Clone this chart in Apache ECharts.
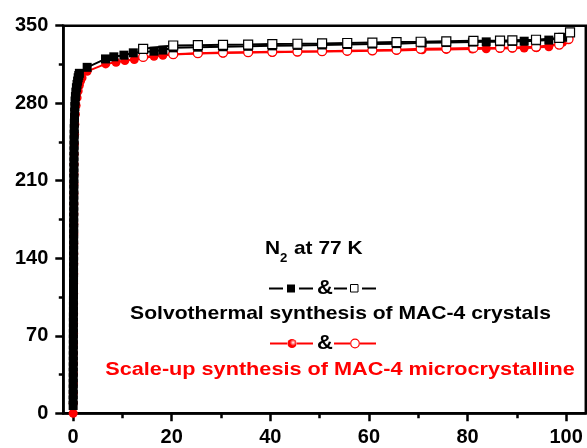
<!DOCTYPE html>
<html>
<head>
<meta charset="utf-8">
<script src="https://cdn.jsdelivr.net/npm/echarts@6/dist/echarts.min.js"></script>
<style>
  html, body { margin: 0; padding: 0; background: #ffffff; }
  #chart { width: 587px; height: 448px; }
</style>
</head>
<body>
<div id="chart"></div>
<script>
// Axis ticks
const xMajorTicks = [0, 20, 40, 60, 80, 100];
const xMinorTicks = [10, 30, 50, 70, 90];
const yTickStep = 70;

// Solvothermal MAC-4 crystals: adsorption (filled squares)
const solvoAdsP = [
  0.00, 0.00, 0.01, 0.01, 0.01, 0.02, 0.02, 0.02, 0.03, 0.03,
  0.03, 0.04, 0.04, 0.04, 0.05, 0.05, 0.05, 0.06, 0.06, 0.06,
  0.07, 0.07, 0.07, 0.08, 0.08, 0.08, 0.09, 0.09, 0.09, 0.10,
  0.10, 0.10, 0.11, 0.11, 0.11, 0.12, 0.12, 0.12, 0.13, 0.13,
  0.13, 0.14, 0.14, 0.15, 0.15, 0.16, 0.17, 0.18, 0.19, 0.20,
  0.22, 0.24, 0.27, 0.30, 0.34, 0.39, 0.46, 0.55, 0.66, 0.78, 0.90, 1.02, 1.14, 1.26,
  2.84, 6.56, 8.25, 10.3, 12.2, 16.4, 18.2, 20.3, 25.3, 30.4, 35.5, 40.4, 45.5, 50.5, 55.6, 60.7, 65.6, 70.8, 75.7,
  81.0, 83.8, 86.6, 89.1, 91.5, 94.0, 96.5, 99.3];
const solvoAdsQ = [
  7, 12, 17, 22, 27, 32, 37, 42, 47, 52,
  57, 62, 67, 72, 77, 82, 87, 92, 97, 102,
  107, 112, 117, 122, 127, 132, 137, 142, 147, 152,
  157, 162, 167, 172, 177, 182, 187, 192, 197, 202,
  207, 212, 217, 222, 227, 232, 237, 242, 247, 252,
  257, 262, 267, 272, 277, 282, 286, 290, 294, 297, 300, 303, 305, 307,
  312.4, 320.0, 321.9, 323.4, 325.5, 327.0, 328.0, 330.0, 330.6, 331.0, 331.4, 331.8, 332.2, 332.6, 333.0, 333.4, 333.8, 334.5, 334.8,
  335.2, 335.4, 335.6, 335.8, 336.0, 336.4, 337.0, 339.5];

// Solvothermal MAC-4 crystals: desorption (open squares)
const solvoDesP = [100.8, 98.6, 93.9, 89.1, 86.6, 81.2, 75.7, 70.5, 65.6, 60.7, 55.6, 50.5, 45.5, 40.4, 35.5, 30.4, 25.3, 20.3, 14.2];
const solvoDesQ = [344.0, 339.0, 337.3, 336.8, 336.6, 336.3, 335.9, 335.5, 335.2, 334.8, 334.4, 334.0, 333.7, 333.4, 333.0, 332.7, 332.4, 332.1, 329.1];

// Scale-up MAC-4 microcrystalline: adsorption (filled circles)
const scaleAdsP = [
  0.00, 0.03, 0.04, 0.05, 0.06, 0.07, 0.07, 0.08, 0.09, 0.09,
  0.10, 0.10, 0.11, 0.11, 0.12, 0.12, 0.13, 0.13, 0.14, 0.14,
  0.15, 0.15, 0.16, 0.17, 0.18, 0.20, 0.22, 0.25, 0.29, 0.35,
  0.45, 0.60, 0.80, 1.02, 1.25, 1.50, 1.80,
  2.84, 6.60, 8.70, 10.5, 12.4, 16.4, 18.2, 20.3, 25.3, 30.4, 35.5, 40.4, 45.5, 50.5, 55.6, 60.7, 65.6, 70.8, 75.7,
  81.0, 83.8, 86.6, 89.1, 91.5, 94.0, 96.5, 99.3];
const scaleAdsQ = [
  0, 9, 18, 27, 36, 45, 54, 63, 72, 81,
  90, 99, 108, 117, 126, 135, 144, 153, 162, 171,
  180, 189, 198, 207, 216, 225, 234, 243, 252, 261,
  270, 278, 285, 291, 296, 300, 303,
  308.8, 315.5, 317.0, 318.5, 319.4, 322.4, 323.3, 324.0, 324.8, 325.3, 325.7, 326.0, 326.4, 326.7, 327.0, 327.3, 327.7, 328.3, 328.6,
  329.0, 329.2, 329.4, 329.6, 329.8, 330.2, 331.0, 335.0];

// Scale-up MAC-4 microcrystalline: desorption (open circles)
const scaleDesP = [100.5, 98.6, 93.9, 89.1, 86.6, 81.2, 75.7, 70.5, 65.6, 60.7, 55.6, 50.5, 45.5, 40.4, 35.5, 30.4, 25.3, 20.3, 14.2];
const scaleDesQ = [338.0, 333.0, 331.0, 330.4, 330.2, 329.9, 329.5, 329.1, 328.3, 327.8, 327.4, 327.0, 326.7, 326.4, 326.1, 325.7, 325.2, 324.3, 321.8];

const pairs = (xs, ys) => xs.map((x, i) => [x, ys[i]]);

const FONT = '"Liberation Sans", Arial, sans-serif';
const BLACK = '#000000';
const RED = '#ff0000';

const chart = echarts.init(document.getElementById('chart'), null, { renderer: 'canvas' });

const axisLineStyle = { color: BLACK, width: 2.5 };

const option = {
  animation: false,
  backgroundColor: '#ffffff',
  grid: {
    left: 63.3, right: 1.2, top: 25.7, bottom: 34.7,
    show: true, borderColor: BLACK, borderWidth: 2.5, backgroundColor: 'transparent'
  },
  xAxis: [
    {
      type: 'value', min: -2, max: 104, position: 'bottom',
      axisLine: { show: true, onZero: false, lineStyle: axisLineStyle },
      axisTick: { show: true, inside: false, length: 8, customValues: xMajorTicks, lineStyle: axisLineStyle },
      axisLabel: { show: true, customValues: xMajorTicks, margin: 14, color: BLACK, fontSize: 20, fontWeight: 'bold', fontFamily: FONT },
      splitLine: { show: false }
    },
    {
      type: 'value', min: -2, max: 104, position: 'bottom',
      axisLine: { show: false },
      axisTick: { show: true, inside: false, length: 5, customValues: xMinorTicks, lineStyle: axisLineStyle },
      axisLabel: { show: false },
      splitLine: { show: false }
    }
  ],
  yAxis: {
    type: 'value', min: 0, max: 350, interval: yTickStep,
    axisLine: { show: true, onZero: false, lineStyle: axisLineStyle },
    axisTick: { show: true, inside: false, length: 8, lineStyle: axisLineStyle },
    minorTick: { show: true, splitNumber: 2, length: 4.5, lineStyle: { color: BLACK, width: 2.5 } },
    axisLabel: { margin: 15, color: BLACK, fontSize: 20, fontWeight: 'bold', fontFamily: FONT },
    splitLine: { show: false }, minorSplitLine: { show: false }
  },
  series: [
    {
      name: 'Scale-up adsorption', type: 'line', xAxisIndex: 0, data: pairs(scaleAdsP, scaleAdsQ),
      symbol: 'circle', symbolSize: 9, showAllSymbol: true, z: 2,
      lineStyle: { color: RED, width: 2 }, itemStyle: { color: RED, borderWidth: 0 }
    },
    {
      name: 'Scale-up desorption', type: 'line', xAxisIndex: 0, data: pairs(scaleDesP, scaleDesQ),
      symbol: 'circle', symbolSize: 9, showAllSymbol: true, z: 3,
      lineStyle: { color: RED, width: 2 }, itemStyle: { color: '#ffffff', borderColor: RED, borderWidth: 1.3 }
    },
    {
      name: 'Solvothermal adsorption', type: 'line', xAxisIndex: 0, data: pairs(solvoAdsP, solvoAdsQ),
      symbol: 'rect', symbolSize: 9, showAllSymbol: true, z: 4,
      lineStyle: { color: BLACK, width: 2 }, itemStyle: { color: BLACK, borderWidth: 0 }
    },
    {
      name: 'Solvothermal desorption', type: 'line', xAxisIndex: 0, data: pairs(solvoDesP, solvoDesQ),
      symbol: 'rect', symbolSize: 9, showAllSymbol: true, z: 5,
      lineStyle: { color: BLACK, width: 2 }, itemStyle: { color: '#ffffff', borderColor: BLACK, borderWidth: 1.2 }
    }
  ],
  graphic: [
    // Caption: N2 at 77 K
    { type: 'text', x: 265, y: 249, scaleX: 1.1, z: 100,
      style: { text: 'N', font: 'bold 19px ' + FONT, fill: BLACK, textAlign: 'left', textVerticalAlign: 'middle' } },
    { type: 'text', x: 280, y: 259, scaleX: 1.1, z: 100,
      style: { text: '2', font: 'bold 12px ' + FONT, fill: BLACK, textAlign: 'left', textVerticalAlign: 'middle' } },
    { type: 'text', x: 294, y: 249, scaleX: 1.1, z: 100,
      style: { text: 'at 77 K', font: 'bold 19px ' + FONT, fill: BLACK, textAlign: 'left', textVerticalAlign: 'middle' } },

    // Key row 1: filled square & open square (black)
    { type: 'line', z: 100, shape: { x1: 269, y1: 288.5, x2: 283, y2: 288.5 }, style: { stroke: BLACK, lineWidth: 2 } },
    { type: 'rect', z: 100, shape: { x: 287, y: 284.5, width: 8, height: 8 }, style: { fill: BLACK } },
    { type: 'line', z: 100, shape: { x1: 299, y1: 288.5, x2: 313, y2: 288.5 }, style: { stroke: BLACK, lineWidth: 2 } },
    { type: 'text', x: 325, y: 288, scaleX: 1.1, z: 100,
      style: { text: '&', font: 'bold 20px ' + FONT, fill: BLACK, textAlign: 'center', textVerticalAlign: 'middle' } },
    { type: 'line', z: 100, shape: { x1: 334, y1: 288.5, x2: 347, y2: 288.5 }, style: { stroke: BLACK, lineWidth: 2 } },
    { type: 'rect', z: 100, shape: { x: 350.5, y: 284.5, width: 7.5, height: 7.5 }, style: { fill: '#ffffff', stroke: BLACK, lineWidth: 1 } },
    { type: 'line', z: 100, shape: { x1: 362, y1: 288.5, x2: 376, y2: 288.5 }, style: { stroke: BLACK, lineWidth: 2 } },

    { type: 'text', x: 340.5, y: 314, scaleX: 1.11, z: 100,
      style: { text: 'Solvothermal synthesis of MAC-4 crystals', font: 'bold 19px ' + FONT, fill: BLACK, textAlign: 'center', textVerticalAlign: 'middle' } },

    // Key row 2: filled circle & open circle (red)
    { type: 'line', z: 100, shape: { x1: 270, y1: 343.5, x2: 287, y2: 343.5 }, style: { stroke: RED, lineWidth: 2 } },
    { type: 'circle', z: 100, shape: { cx: 292, cy: 343.5, r: 4.6 },
      style: { fill: new echarts.graphic.RadialGradient(0.62, 0.4, 0.6, [
        { offset: 0, color: '#ffffff' }, { offset: 0.35, color: '#ff6060' }, { offset: 0.6, color: RED }, { offset: 1, color: RED }]) } },
    { type: 'line', z: 100, shape: { x1: 297, y1: 343.5, x2: 313, y2: 343.5 }, style: { stroke: RED, lineWidth: 2 } },
    { type: 'text', x: 325, y: 343, scaleX: 1.1, z: 100,
      style: { text: '&', font: 'bold 20px ' + FONT, fill: BLACK, textAlign: 'center', textVerticalAlign: 'middle' } },
    { type: 'line', z: 100, shape: { x1: 334, y1: 343.5, x2: 350, y2: 343.5 }, style: { stroke: RED, lineWidth: 2 } },
    { type: 'circle', z: 100, shape: { cx: 355, cy: 343.5, r: 4.3 }, style: { fill: '#ffffff', stroke: RED, lineWidth: 1.2 } },
    { type: 'line', z: 100, shape: { x1: 360, y1: 343.5, x2: 376, y2: 343.5 }, style: { stroke: RED, lineWidth: 2 } },

    { type: 'text', x: 340, y: 370, scaleX: 1.14, z: 100,
      style: { text: 'Scale-up synthesis of MAC-4 microcrystalline', font: 'bold 19px ' + FONT, fill: RED, textAlign: 'center', textVerticalAlign: 'middle' } }
  ]
};

chart.setOption(option);
</script>
</body>
</html>
